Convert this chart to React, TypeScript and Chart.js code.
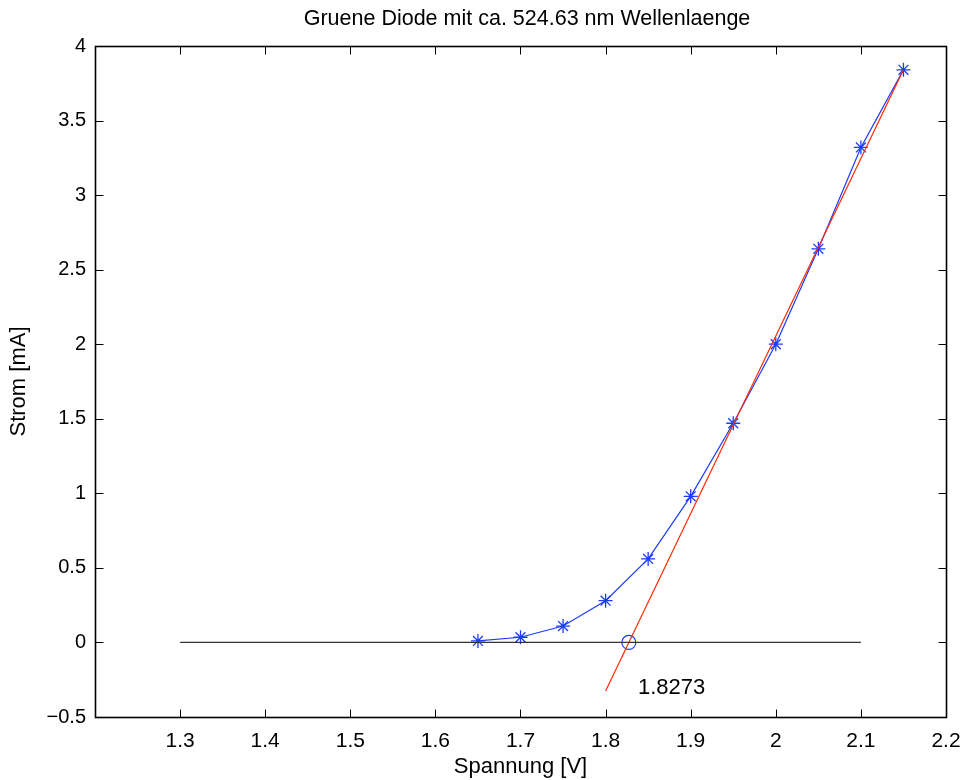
import React, { useEffect, useRef } from "react";
import { Chart, registerables } from "chart.js";

Chart.register(...registerables);

// Measured data: Spannung [V] vs Strom [mA]
const voltage = [1.65, 1.7, 1.75, 1.8, 1.85, 1.9, 1.95, 2.0, 2.05, 2.1, 2.15];
const current = [0.01, 0.035, 0.11, 0.28, 0.56, 0.98, 1.47, 2.0, 2.64, 3.32, 3.84];

// Linear fit line (red)
const fitX = [1.8, 2.15];
const fitY = [-0.325, 3.84];

// Zero baseline (black)
const baseX = [1.3, 2.1];
const baseY = [0, 0];

// Intercept marker and label
const interceptX = [1.8273];
const interceptY = [0];
const interceptLabel = "1.8273";
const labelPos = [1.838, -0.305];

const xTicks = [1.2, 1.3, 1.4, 1.5, 1.6, 1.7, 1.8, 1.9, 2.0, 2.1, 2.2];
const yTicks = [-0.5, 0, 0.5, 1, 1.5, 2, 2.5, 3, 3.5, 4];

const titleText = "Gruene Diode mit ca. 524.63 nm Wellenlaenge";
const xTitle = "Spannung [V]";
const yTitle = "Strom [mA]";

const FONT = "'Liberation Sans', Arial, Helvetica, sans-serif";

const zip = (xs: number[], ys: number[]) => xs.map((x, i) => ({ x, y: ys[i] }));

const fmt = (v: number) => {
  const r = Math.round(v * 10) / 10;
  const s = String(r);
  return r < 0 ? "\u2212" + s.slice(1) : s;
};

const boxPlugin = {
  id: "boxPlugin",
  afterDraw(chart: any) {
    const { ctx, chartArea: a, scales } = chart;
    const xs = scales.x;
    const ys = scales.y;
    ctx.save();
    ctx.strokeStyle = "#000";
    const L = Math.round(a.left) + 0.5;
    const R = Math.round(a.right) + 0.5;
    const T = Math.round(a.top) + 0.5;
    const B = Math.round(a.bottom) + 0.5;
    ctx.lineWidth = 1.6;
    ctx.strokeRect(L, T, R - L, B - T);
    ctx.lineWidth = 1;
    const tl = 8;
    ctx.beginPath();
    xTicks.forEach((v) => {
      const px = Math.round(xs.getPixelForValue(v)) + 0.5;
      ctx.moveTo(px, B);
      ctx.lineTo(px, B - tl);
      ctx.moveTo(px, T);
      ctx.lineTo(px, T + tl);
    });
    yTicks.forEach((v) => {
      const py = Math.round(ys.getPixelForValue(v)) + 0.5;
      ctx.moveTo(L, py);
      ctx.lineTo(L + tl, py);
      ctx.moveTo(R, py);
      ctx.lineTo(R - tl, py);
    });
    ctx.stroke();

    // title
    ctx.fillStyle = "#000";
    ctx.font = `21.5px ${FONT}`;
    ctx.textAlign = "center";
    ctx.textBaseline = "middle";
    ctx.fillText(titleText, 527, 19);

    // intercept label
    ctx.font = `22px ${FONT}`;
    ctx.textAlign = "left";
    ctx.fillText(interceptLabel, xs.getPixelForValue(labelPos[0]), ys.getPixelForValue(labelPos[1]));
    ctx.restore();
  },
};

export default function App() {
  const ref = useRef<HTMLCanvasElement | null>(null);
  useEffect(() => {
    if (!ref.current) return;
    const chart = new Chart(ref.current, {
      type: "scatter",
      data: {
        datasets: [
          {
            data: zip(baseX, baseY),
            showLine: true,
            borderColor: "#333",
            borderWidth: 1.3,
            pointRadius: 0,
          },
          {
            data: zip(fitX, fitY),
            showLine: true,
            borderColor: "#ff2a00",
            borderWidth: 1.2,
            pointRadius: 0,
          },
          {
            data: zip(voltage, current),
            showLine: true,
            borderColor: "#1a3cff",
            borderWidth: 1.2,
            pointStyle: "star",
            pointRadius: 7,
            pointBorderColor: "#1a3cff",
            pointBorderWidth: 1.3,
            pointBackgroundColor: "#1a3cff",
          },
          {
            data: zip(interceptX, interceptY),
            showLine: false,
            pointStyle: "circle",
            pointRadius: 7,
            pointBorderColor: "#1a3cff",
            pointBorderWidth: 1.2,
            pointBackgroundColor: "rgba(0,0,0,0)",
          },
        ],
      },
      options: {
        animation: false,
        responsive: true,
        maintainAspectRatio: false,
        layout: { padding: { top: 46, right: 21, left: 0, bottom: 0 } },
        plugins: {
          legend: { display: false },
          tooltip: { enabled: false },
          title: { display: false },
        },
        scales: {
          x: {
            type: "linear",
            min: 1.2,
            max: 2.2,
            afterBuildTicks: (s: any) => {
              s.ticks = xTicks.map((v) => ({ value: v }));
            },
            afterFit: (s: any) => {
              s.height = 63;
              s.paddingRight = 0;
              s.paddingLeft = 0;
            },
            grid: { display: false, drawTicks: false },
            border: { display: false },
            ticks: {
              color: "#000",
              font: { family: FONT, size: 21 },
              padding: 12,
              maxRotation: 0,
              autoSkip: false,
              callback: (v: any) => (Math.abs(v - 1.2) < 1e-9 ? "" : fmt(v)),
            },
            title: {
              display: true,
              text: xTitle,
              color: "#000",
              font: { family: FONT, size: 22 },
              padding: { top: 0, bottom: 0 },
            },
          },
          y: {
            type: "linear",
            min: -0.5,
            max: 4,
            afterBuildTicks: (s: any) => {
              s.ticks = yTicks.map((v) => ({ value: v }));
            },
            afterFit: (s: any) => {
              s.width = 95;
              s.paddingTop = 0;
              s.paddingBottom = 0;
            },
            grid: { display: false, drawTicks: false },
            border: { display: false },
            ticks: {
              color: "#000",
              font: { family: FONT, size: 20 },
              padding: 9,
              autoSkip: false,
              callback: (v: any) => fmt(v),
            },
            title: {
              display: true,
              text: yTitle,
              color: "#000",
              font: { family: FONT, size: 22 },
              padding: { top: 6, bottom: 0 },
            },
          },
        },
      },
      plugins: [boxPlugin],
    });
    return () => chart.destroy();
  }, []);
  return (
    <div style={{ position: "absolute", left: 0, top: 0, width: 967, height: 780, background: "#fff" }}>
      <canvas ref={ref} />
    </div>
  );
}
